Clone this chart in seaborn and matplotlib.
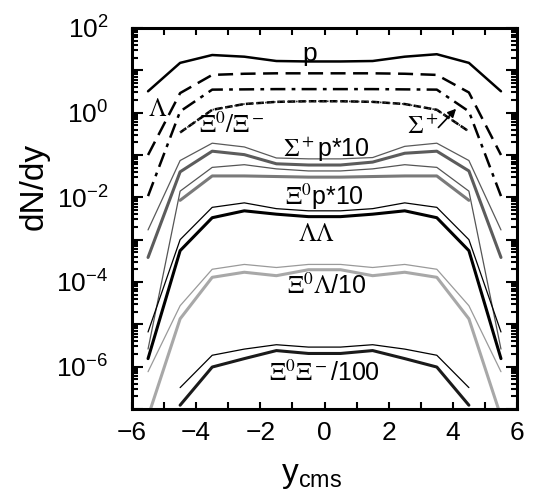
import numpy as np
import pandas as pd
import matplotlib
matplotlib.use("Agg")
import matplotlib.pyplot as plt
import matplotlib.ticker as mticker
import seaborn as sns

# rapidity points
y_all = [-5.5, -4.5, -3.5, -2.5, -1.5, -0.5, 0.5, 1.5, 2.5, 3.5, 4.5, 5.5]
y_mid = [-4.5, -3.5, -2.5, -1.5, -0.5, 0.5, 1.5, 2.5, 3.5, 4.5]

# single particles
p_vals = [3.2, 15, 23, 21, 16.6, 16.2, 16.2, 16.6, 21, 24, 15, 3.2]
lam_vals = [0.10, 2.9, 7.8, 8.3, 8.5, 8.5, 8.5, 8.5, 8.3, 7.8, 3.0, 0.10]
sig_vals = [0.0107, 1.07, 3.5, 3.55, 3.6, 3.6, 3.6, 3.6, 3.55, 3.5, 1.07, 0.0107]
xi_vals = [0.34, 1.17, 1.6, 1.8, 1.86, 1.86, 1.8, 1.6, 1.17, 0.36]

# pairs (thick / thin)
sigp_thick = [3.8e-4, 0.040, 0.123, 0.102, 0.062, 0.058, 0.058, 0.068, 0.11, 0.123, 0.042, 3.8e-4]
sigp_thin = [1.7e-3, 0.074, 0.19, 0.155, 0.085, 0.081, 0.081, 0.087, 0.16, 0.19, 0.074, 1.7e-3]
xip_thick = [8.5e-3, 0.032, 0.032, 0.031, 0.030, 0.030, 0.031, 0.032, 0.032, 8.5e-3]
xip_thin = [2.6e-6, 0.014, 0.051, 0.059, 0.047, 0.042, 0.042, 0.047, 0.059, 0.051, 0.014, 2.6e-6]
ll_thick = [1.55e-6, 5.5e-4, 3.3e-3, 4.8e-3, 4.0e-3, 3.5e-3, 3.5e-3, 4.0e-3, 4.8e-3, 3.3e-3, 5.5e-4, 1.55e-6]
ll_thin = [6.6e-6, 1.0e-3, 5.8e-3, 7.4e-3, 5.4e-3, 4.8e-3, 4.8e-3, 5.4e-3, 7.4e-3, 5.8e-3, 1.0e-3, 6.6e-6]
xil_thick = [6.6e-8, 1.35e-5, 1.29e-4, 1.7e-4, 1.41e-4, 1.95e-4, 1.95e-4, 1.41e-4, 1.7e-4, 1.29e-4, 1.35e-5, 6.6e-8]
xil_thin = [7.6e-7, 2.75e-5, 2.0e-4, 2.6e-4, 2.2e-4, 2.6e-4, 2.6e-4, 2.2e-4, 2.6e-4, 2.0e-4, 2.75e-5, 7.6e-7]
xixi_thick = [1.23e-7, 9.8e-7, 1.55e-6, 2.4e-6, 2.05e-6, 2.05e-6, 2.4e-6, 1.55e-6, 9.8e-7, 1.23e-7]
xixi_thin = [3.2e-7, 1.86e-6, 2.6e-6, 3.3e-6, 2.9e-6, 2.9e-6, 3.3e-6, 2.6e-6, 1.86e-6, 3.2e-7]

sns.set_style("ticks")
plt.rcParams['font.family'] = ['Liberation Sans', 'DejaVu Sans']
plt.rcParams['mathtext.fontset'] = 'stix'
plt.rcParams['text.color'] = 'black'
plt.rcParams['axes.labelcolor'] = 'black'
plt.rcParams['xtick.color'] = 'black'
plt.rcParams['ytick.color'] = 'black'

fig = plt.figure(figsize=(5.37, 4.92), dpi=100)
ax = fig.add_axes([0.2458, 0.1687, 0.717, 0.7744])

def draw(x, y, color, lw, ls="-"):
    sns.lineplot(x=x, y=y, ax=ax, color=color, linewidth=lw, linestyle=ls,
                 sort=False, estimator=None)

# thin lines first, thick on top
draw(y_all, sigp_thin, "#5a5a5a", 0.9)
draw(y_all, xip_thin, "#555555", 0.9)
draw(y_all, ll_thin, "black", 0.9)
draw(y_all, xil_thin, "#9a9a9a", 0.9)
draw(y_mid, xixi_thin, "black", 0.9)

draw(y_all, sigp_thick, "#5c5c5c", 2.2)
draw(y_mid, xip_thick, "#7a7a7a", 2.2)
draw(y_all, ll_thick, "black", 2.2)
draw(y_all, xil_thick, "#a8a8a8", 2.2)
draw(y_mid, xixi_thick, "#1a1a1a", 2.2)

draw(y_all, p_vals, "black", 1.8)
draw(y_all, lam_vals, "black", 1.8, (0, (6, 3)))
draw(y_all, sig_vals, "black", 1.8, (0, (6, 2.5, 1.5, 2.5)))
draw(y_mid, xi_vals, "black", 1.8, (0, (3, 1.2)))
draw(y_mid, xi_vals, "#333333", 1.2, ":")

ax.set_yscale("log")
ax.set_xlim(-6, 6)
ax.set_ylim(1e-7, 1e2)

# labels on the curves
fs = 18
ax.text(-0.45, 24, "p", ha="center", va="center", fontsize=fs + 1)
ax.text(-5.2, 1.2, r"$\mathrm{\Lambda}$", ha="center", va="center", fontsize=fs)
ax.text(-2.88, 0.50, r"$\mathrm{\Xi^0/\Xi^-}$", ha="center", va="center", fontsize=fs)
ax.text(3.07, 0.45, r"$\mathrm{\Sigma^+}$", ha="center", va="center", fontsize=fs)
ax.text(0.07, 0.135, r"$\mathrm{\Sigma^+}$p*10", ha="center", va="center", fontsize=fs)
ax.text(0.0, 0.0105, r"$\mathrm{\Xi^0}$p*10", ha="center", va="center", fontsize=fs)
ax.text(-0.24, 1.35e-3, r"$\mathrm{\Lambda\Lambda}$", ha="center", va="center", fontsize=fs)
ax.text(0.07, 8.1e-5, r"$\mathrm{\Xi^0\Lambda}$/10", ha="center", va="center", fontsize=fs)
ax.text(0.0, 6.9e-7, r"$\mathrm{\Xi^0\Xi^-}$/100", ha="center", va="center", fontsize=fs)

ax.annotate("", xy=(4.16, 1.38), xytext=(3.49, 0.40),
            arrowprops=dict(arrowstyle="-|>", color="black", lw=1.2,
                            mutation_scale=12))

# axis labels
ax.set_xlabel(r"$\mathregular{y_{cms}}$", fontsize=24)
ax.set_ylabel("dN/dy", fontsize=24)
ax.yaxis.set_label_coords(-0.215, 0.583)
ax.xaxis.set_label_coords(0.465, -0.135)

# ticks
ax.xaxis.set_major_locator(mticker.MultipleLocator(2))
ax.xaxis.set_minor_locator(mticker.MultipleLocator(1))
ax.xaxis.set_major_formatter(mticker.FuncFormatter(
    lambda v, pos: f"{int(round(v))}".replace("-", "\u2212")))
ax.yaxis.set_major_locator(mticker.LogLocator(base=10, numticks=20))
ax.yaxis.set_minor_locator(mticker.LogLocator(base=10, subs=np.arange(2, 10), numticks=20))

def yfmt(v, pos):
    e = int(round(np.log10(v)))
    if e % 2:
        return ""
    return "$\\mathregular{10^{%d}}$" % e

ax.yaxis.set_major_formatter(mticker.FuncFormatter(yfmt))
ax.yaxis.set_minor_formatter(mticker.NullFormatter())
ax.tick_params(axis="both", which="both", direction="in", top=True, right=True,
               labelsize=19, width=1.5, color="black")
ax.tick_params(axis="y", which="major", length=8, pad=17)
ax.tick_params(axis="y", which="minor", length=4)
ax.tick_params(axis="x", which="both", length=5, pad=9)
for s in ax.spines.values():
    s.set_linewidth(2.2)
    s.set_color("black")

fig.savefig("out.png", dpi=100)
